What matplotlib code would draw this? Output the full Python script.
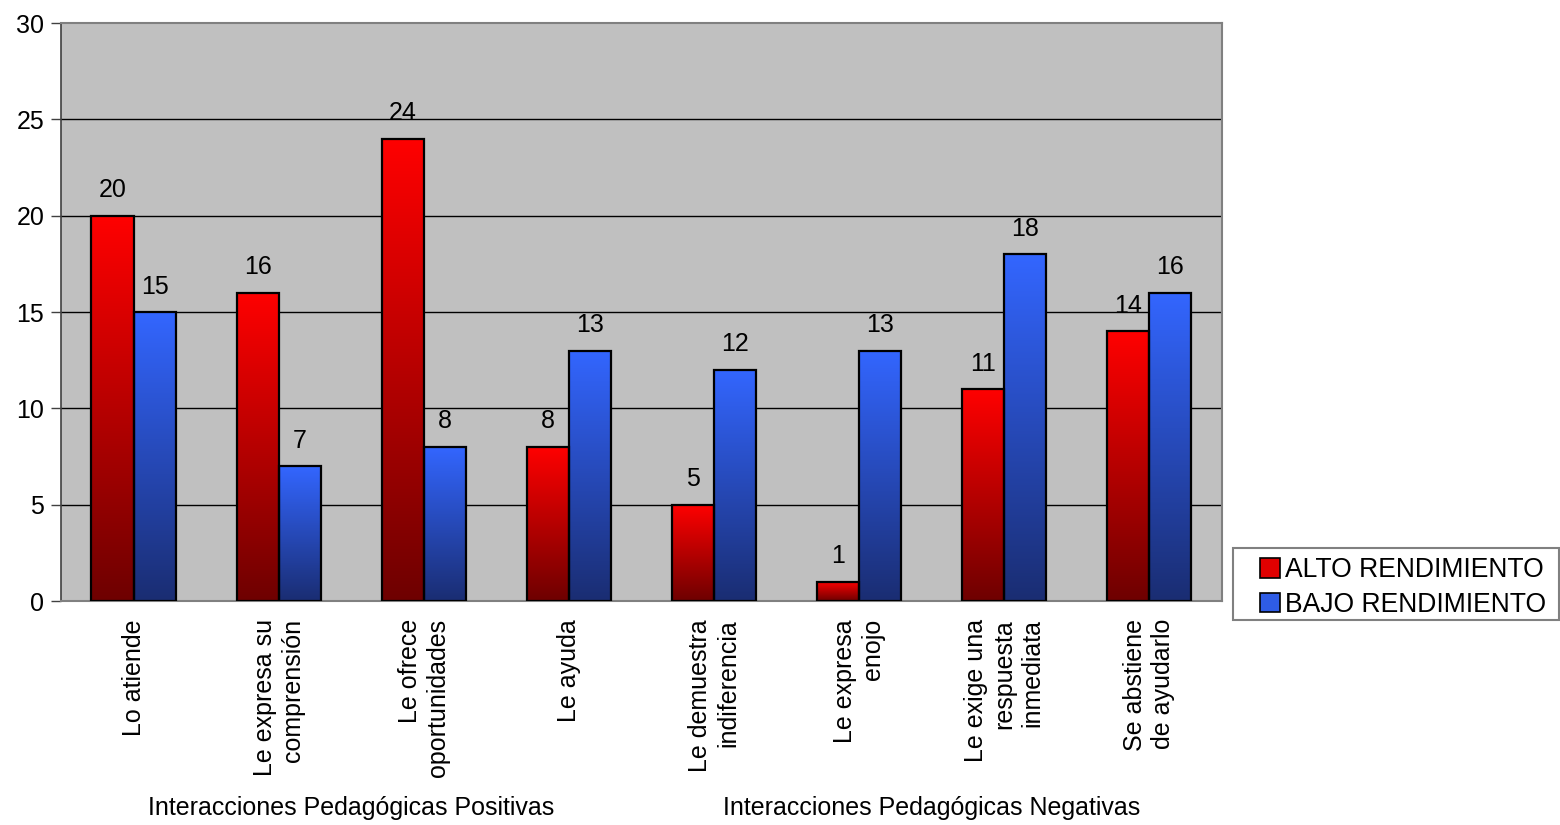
import numpy as np
import matplotlib
matplotlib.use("Agg")
import matplotlib.pyplot as plt
from matplotlib.colors import LinearSegmentedColormap
from matplotlib.patches import Patch, Rectangle
from matplotlib.transforms import blended_transform_factory

plt.rcParams['font.family'] = ['Liberation Sans', 'DejaVu Sans']

categories = [
    "Lo atiende",
    "Le expresa su\ncomprensión",
    "Le ofrece\noportunidades",
    "Le ayuda",
    "Le demuestra\nindiferencia",
    "Le expresa\nenojo",
    "Le exige una\nrespuesta\ninmediata",
    "Se abstiene\nde ayudarlo",
]
alto = [20, 16, 24, 8, 5, 1, 11, 14]
bajo = [15, 7, 8, 13, 12, 13, 18, 16]
series_names = ["ALTO RENDIMIENTO", "BAJO RENDIMIENTO"]
groups = ["Interacciones Pedagógicas Positivas", "Interacciones Pedagógicas Negativas"]
yticks = [0, 5, 10, 15, 20, 25, 30]

FS = 18

red_cmap = LinearSegmentedColormap.from_list("red", ["#6E0000", "#FF0000"])
blue_cmap = LinearSegmentedColormap.from_list("blue", ["#1A2D72", "#3366FF"])

fig = plt.figure(figsize=(15.6, 8.25), dpi=100)
ax = fig.add_axes([0.0391, 0.2715, 0.7442, 0.7006])
ax.set_facecolor("#C0C0C0")

x = np.arange(len(categories))
w = 0.29

grad = np.linspace(0, 1, 256).reshape(-1, 1)
for vals, offset, cmap in [(alto, -w / 2, red_cmap), (bajo, w / 2, blue_cmap)]:
    bars = ax.bar(x + offset, vals, width=w, facecolor="none",
                  edgecolor="black", linewidth=1.6, zorder=4)
    for b, v in zip(bars, vals):
        x0, y0 = b.get_x(), b.get_y()
        ax.imshow(grad, cmap=cmap, origin="lower", aspect="auto",
                  extent=(x0, x0 + b.get_width(), y0, y0 + b.get_height()),
                  zorder=3, interpolation="bilinear")
        ax.text(b.get_x() + b.get_width() / 2, v + 0.7, f"{v}",
                ha="center", va="bottom", fontsize=FS, zorder=5)

ax.set_xlim(-0.5, len(categories) - 0.5)
ax.set_ylim(0, 30)

ax.set_yticks(yticks)
ax.set_yticklabels([str(t) for t in yticks], fontsize=FS)
ax.tick_params(axis="y", direction="out", length=7, width=1, color="#404040", pad=5)
for t in yticks[1:-1]:
    ax.axhline(t, color="black", linewidth=1, zorder=1)

ax.set_xticks(x)
ax.set_xticklabels(categories, rotation=90, fontsize=FS, ha="center",
                   va="top", multialignment="right", linespacing=1.22)
ax.tick_params(axis="x", length=0, pad=13)

for s in ["top", "right", "bottom"]:
    ax.spines[s].set_color("#808080")
    ax.spines[s].set_linewidth(1.5)
ax.spines["left"].set_color("#404040")
ax.spines["left"].set_linewidth(1.2)

trans = blended_transform_factory(ax.transAxes, fig.transFigure)
ax.text(0.25, 0.021, groups[0], transform=trans, ha="center", va="center", fontsize=FS)
ax.text(0.75, 0.021, groups[1], transform=trans, ha="center", va="center", fontsize=FS)

# legend frame
fig.patches.append(Rectangle((0.7904, 0.2485), 0.2090, 0.0873, transform=fig.transFigure,
                             facecolor="white", edgecolor="#808080", linewidth=1.5,
                             zorder=1))
handles = [Patch(facecolor="#E00000", edgecolor="black", linewidth=1.2),
           Patch(facecolor="#2E5CE6", edgecolor="black", linewidth=1.2)]
leg = fig.legend(handles, series_names, loc="center left",
                 bbox_to_anchor=(0.808, 0.288), frameon=False,
                 fontsize=19.1, handlelength=0.74, handleheight=0.74,
                 handletextpad=0.2, borderpad=0, labelspacing=0.32, borderaxespad=0)

fig.savefig("out.png", dpi=100)
